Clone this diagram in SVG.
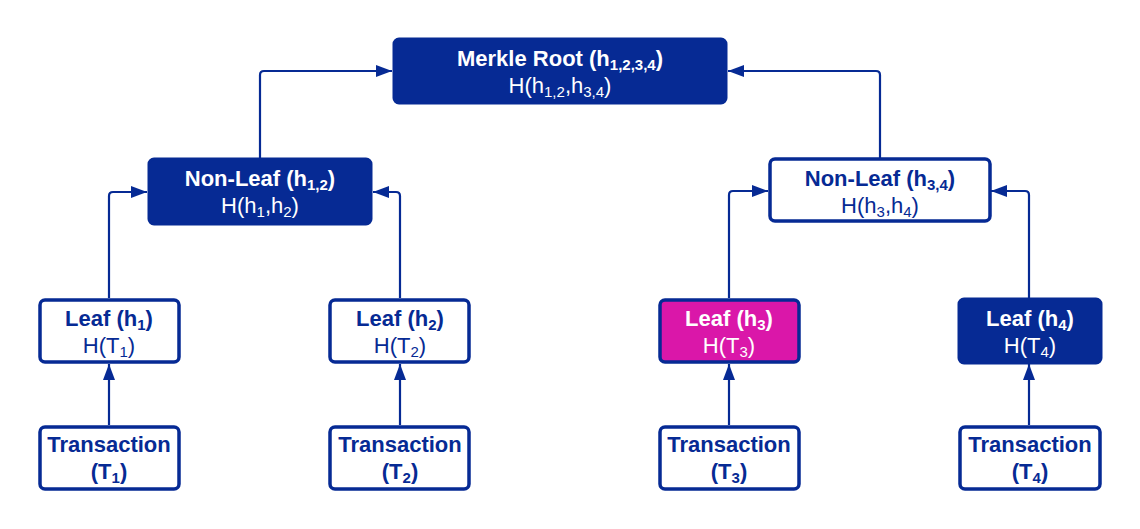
<svg xmlns="http://www.w3.org/2000/svg" width="1140" height="529" viewBox="0 0 1140 529">
<style>
text{font-family:"Liberation Sans",Arial,sans-serif;font-size:22px;text-anchor:middle}
.b{font-weight:bold}
.s{font-size:15px}
.dark rect{fill:#062A94;stroke:#062A94;stroke-width:3}
.light rect{fill:#fff;stroke:#062A94;stroke-width:3.5}
.pink rect{fill:#DA17A9;stroke:#062A94;stroke-width:3.5}
.dark text,.pink text{fill:#fff}
.light text{fill:#062A94}
.con path{fill:none;stroke:#062A94;stroke-width:2.2}
</style>
<defs>
<marker id="ah" viewBox="0 0 16 12" refX="16" refY="6" markerWidth="16" markerHeight="12" markerUnits="userSpaceOnUse" orient="auto">
<path d="M0,0 L16,6 L0,12 z" fill="#062A94"/>
</marker>
</defs>
<g class="con">
<path d="M260,158 V75 Q260,71 264,71 H392" marker-end="url(#ah)"/>
<path d="M880,158 V75 Q880,71 876,71 H728" marker-end="url(#ah)"/>
<path d="M109,298 V196 Q109,192 113,192 H147" marker-end="url(#ah)"/>
<path d="M400,298 V196 Q400,192 396,192 H373" marker-end="url(#ah)"/>
<path d="M729,298 V195 Q729,191 733,191 H768" marker-end="url(#ah)"/>
<path d="M1029,298 V195 Q1029,191 1025,191 H991" marker-end="url(#ah)"/>
<path d="M109,425 V364" marker-end="url(#ah)"/>
<path d="M400,425 V364" marker-end="url(#ah)"/>
<path d="M729,425 V364" marker-end="url(#ah)"/>
<path d="M1029,425 V364" marker-end="url(#ah)"/>
</g>
<g id="root" class="dark">
<rect x="394" y="39" width="332" height="64" rx="5"/>
<text x="560" y="66" class="b">Merkle Root (h<tspan class="s" dy="4">1,2,3,4</tspan><tspan dy="-4">)</tspan></text>
<text x="560" y="93">H(h<tspan class="s" dy="4">1,2</tspan><tspan dy="-4">,h</tspan><tspan class="s" dy="4">3,4</tspan><tspan dy="-4">)</tspan></text>
</g>
<g id="nl12" class="dark">
<rect x="149" y="159" width="222" height="65" rx="5"/>
<text x="260" y="186" class="b">Non-Leaf (h<tspan class="s" dy="4">1,2</tspan><tspan dy="-4">)</tspan></text>
<text x="260" y="213">H(h<tspan class="s" dy="4">1</tspan><tspan dy="-4">,h</tspan><tspan class="s" dy="4">2</tspan><tspan dy="-4">)</tspan></text>
</g>
<g id="nl34" class="light">
<rect x="770" y="159" width="220" height="62" rx="5"/>
<text x="880" y="186" class="b">Non-Leaf (h<tspan class="s" dy="4">3,4</tspan><tspan dy="-4">)</tspan></text>
<text x="880" y="213">H(h<tspan class="s" dy="4">3</tspan><tspan dy="-4">,h</tspan><tspan class="s" dy="4">4</tspan><tspan dy="-4">)</tspan></text>
</g>
<g id="leaf1" class="light">
<rect x="40" y="300" width="139" height="62" rx="5"/>
<text x="109" y="326" class="b">Leaf (h<tspan class="s" dy="4">1</tspan><tspan dy="-4">)</tspan></text>
<text x="109" y="353">H(T<tspan class="s" dy="4">1</tspan><tspan dy="-4">)</tspan></text>
</g>
<g id="leaf2" class="light">
<rect x="330" y="300" width="139" height="62" rx="5"/>
<text x="400" y="326" class="b">Leaf (h<tspan class="s" dy="4">2</tspan><tspan dy="-4">)</tspan></text>
<text x="400" y="353">H(T<tspan class="s" dy="4">2</tspan><tspan dy="-4">)</tspan></text>
</g>
<g id="leaf3" class="pink">
<rect x="660" y="300" width="139" height="62" rx="5"/>
<text x="729" y="326" class="b">Leaf (h<tspan class="s" dy="4">3</tspan><tspan dy="-4">)</tspan></text>
<text x="729" y="353">H(T<tspan class="s" dy="4">3</tspan><tspan dy="-4">)</tspan></text>
</g>
<g id="leaf4" class="dark">
<rect x="959" y="299" width="142" height="64" rx="5"/>
<text x="1030" y="326" class="b">Leaf (h<tspan class="s" dy="4">4</tspan><tspan dy="-4">)</tspan></text>
<text x="1030" y="353">H(T<tspan class="s" dy="4">4</tspan><tspan dy="-4">)</tspan></text>
</g>
<g id="tx1" class="light">
<rect x="40" y="427" width="139" height="62" rx="5"/>
<text x="109" y="452" class="b">Transaction</text>
<text x="109" y="479" class="b">(T<tspan class="s" dy="4">1</tspan><tspan dy="-4">)</tspan></text>
</g>
<g id="tx2" class="light">
<rect x="330" y="427" width="139" height="62" rx="5"/>
<text x="400" y="452" class="b">Transaction</text>
<text x="400" y="479" class="b">(T<tspan class="s" dy="4">2</tspan><tspan dy="-4">)</tspan></text>
</g>
<g id="tx3" class="light">
<rect x="660" y="427" width="139" height="62" rx="5"/>
<text x="729" y="452" class="b">Transaction</text>
<text x="729" y="479" class="b">(T<tspan class="s" dy="4">3</tspan><tspan dy="-4">)</tspan></text>
</g>
<g id="tx4" class="light">
<rect x="960" y="427" width="140" height="62" rx="5"/>
<text x="1030" y="452" class="b">Transaction</text>
<text x="1030" y="479" class="b">(T<tspan class="s" dy="4">4</tspan><tspan dy="-4">)</tspan></text>
</g>
</svg>
